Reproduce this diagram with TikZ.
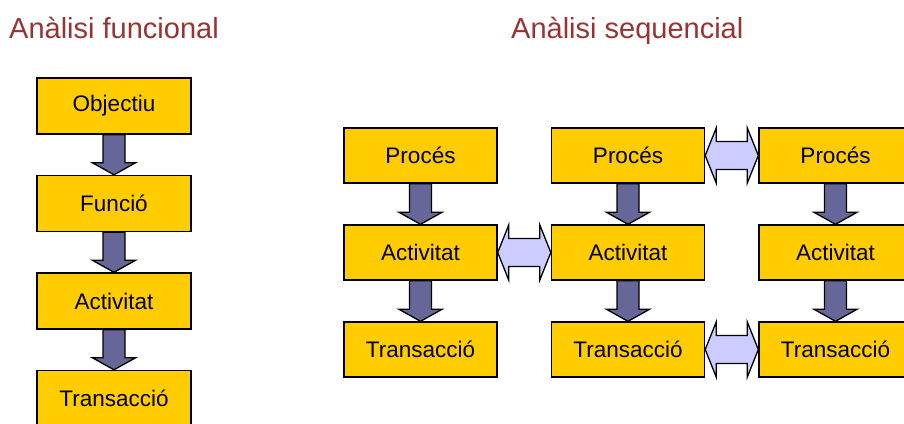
\documentclass[tikz,border=0pt]{standalone}
\usepackage{fontspec}
\setmainfont{Liberation Sans}
\usetikzlibrary{calc}
\definecolor{TitleRed}{HTML}{993333}
\definecolor{BoxGold}{HTML}{FFCC00}
\definecolor{ArrowSlate}{HTML}{666699}
\definecolor{ArrowLilac}{HTML}{CCCCFF}
\tikzset{
  title/.style={anchor=base west, inner sep=0pt, text=TitleRed, font=\fontsize{29}{32}\selectfont},
  stepbox/.style={draw=black, line width=1.4pt, fill=BoxGold, minimum width=153pt, minimum height=55pt, inner sep=0pt, font=\fontsize{22.5}{26}\selectfont},
  fatdown/.style={draw=black, line width=1.3pt, fill=ArrowSlate, line join=miter,
    to path={($(\tikztostart.south)+(-11pt,0)$) -- ($(\tikztotarget.north)+(-11pt,12pt)$) -- ($(\tikztotarget.north)+(-21.5pt,12pt)$) -- (\tikztotarget.north) -- ($(\tikztotarget.north)+(21.5pt,12pt)$) -- ($(\tikztotarget.north)+(11pt,12pt)$) -- ($(\tikztostart.south)+(11pt,0)$) -- cycle}},
  fatboth/.style={draw=black, line width=1.3pt, fill=ArrowLilac, line join=miter,
    to path={(\tikztostart.east) -- ($(\tikztostart.east)+(11pt,27.5pt)$) -- ($(\tikztostart.east)+(11pt,14pt)$) -- ($(\tikztotarget.west)+(-11pt,14pt)$) -- ($(\tikztotarget.west)+(-11pt,27.5pt)$) -- (\tikztotarget.west) -- ($(\tikztotarget.west)+(-11pt,-27.5pt)$) -- ($(\tikztotarget.west)+(-11pt,-14pt)$) -- ($(\tikztostart.east)+(11pt,-14pt)$) -- ($(\tikztostart.east)+(11pt,-27.5pt)$) -- cycle}}
}
\begin{document}
\begin{tikzpicture}[x=1pt, y=1pt]
\clip (0,0) rectangle (904,423);
\fill[white] (0,0) rectangle (904,423);
% titles
\node[title] (tfunc) at (9,384) {Anàlisi funcional};
\node[title] (tseq) at (511,384) {Anàlisi sequencial};
% functional column
\node[stepbox, minimum width=154pt, minimum height=56pt] (obj) at (114,317) {Objectiu};
\node[stepbox, minimum width=154pt, minimum height=56pt] (func) at (114,219.5) {Funció};
\node[stepbox, minimum width=154pt, minimum height=56pt] (act) at (114,122) {Activitat};
\node[stepbox, minimum width=154pt, minimum height=56pt] (trans) at (114,24.5) {Transacció};
\draw[fatdown] (obj) to (func);
\draw[fatdown] (func) to (act);
\draw[fatdown] (act) to (trans);
% sequential grid
\node[stepbox] (procA) at (420.5,267.5) {Procés};
\node[stepbox] (actA) at (420.5,170.5) {Activitat};
\node[stepbox] (transA) at (420.5,73.5) {Transacció};
\node[stepbox] (procB) at (628,267.5) {Procés};
\node[stepbox] (actB) at (628,170.5) {Activitat};
\node[stepbox] (transB) at (628,73.5) {Transacció};
\node[stepbox] (procC) at (835.5,267.5) {Procés};
\node[stepbox] (actC) at (835.5,170.5) {Activitat};
\node[stepbox] (transC) at (835.5,73.5) {Transacció};
\draw[fatdown] (procA) to (actA);
\draw[fatdown] (actA) to (transA);
\draw[fatdown] (procB) to (actB);
\draw[fatdown] (actB) to (transB);
\draw[fatdown] (procC) to (actC);
\draw[fatdown] (actC) to (transC);
\draw[fatboth] (actA) to (actB);
\draw[fatboth] (procB) to (procC);
\draw[fatboth] (transB) to (transC);
\end{tikzpicture}
\end{document}
